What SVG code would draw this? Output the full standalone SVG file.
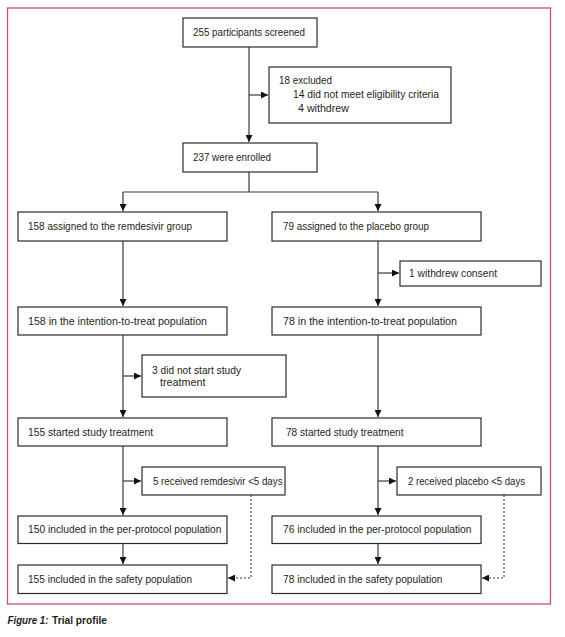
<svg xmlns="http://www.w3.org/2000/svg" width="565" height="637" viewBox="0 0 565 637">
<style>
.b{fill:#fff;stroke:#2b2b2b;stroke-width:1.2}
.t{font-family:"Liberation Sans",Arial,sans-serif;font-size:11px;fill:#231f20}
.l{fill:none;stroke:#3a3a3a;stroke-width:1.2}
.d{fill:none;stroke:#3a3a3a;stroke-width:1.1;stroke-dasharray:2 2}
.cap{font-family:"Liberation Sans",Arial,sans-serif;font-size:11.5px;font-weight:bold;fill:#231f20}
</style>
<defs>
<marker id="a" viewBox="0 0 10 10" refX="10" refY="5" markerWidth="7" markerHeight="7" markerUnits="userSpaceOnUse" orient="auto">
<path d="M0,0 L10,5 L0,10 Z" fill="#111"/>
</marker>
</defs>
<rect x="7.5" y="8" width="543" height="596" fill="none" stroke="#cf4f6e" stroke-width="1.3"/>
<g id="connectors">
<path class="l" d="M249,47 V142" marker-end="url(#a)"/>
<path class="l" d="M249,95 H268" marker-end="url(#a)"/>
<path class="l" d="M249,172 V192 M123,192 H378"/>
<path class="l" d="M123,192 V211" marker-end="url(#a)"/>
<path class="l" d="M378,192 V211" marker-end="url(#a)"/>
<path class="l" d="M123,241 V306" marker-end="url(#a)"/>
<path class="l" d="M378,241 V306" marker-end="url(#a)"/>
<path class="l" d="M378,273 H399" marker-end="url(#a)"/>
<path class="l" d="M123,335 V417" marker-end="url(#a)"/>
<path class="l" d="M123,376 H141" marker-end="url(#a)"/>
<path class="l" d="M378,335 V417" marker-end="url(#a)"/>
<path class="l" d="M123,446 V515" marker-end="url(#a)"/>
<path class="l" d="M123,481 H141" marker-end="url(#a)"/>
<path class="l" d="M378,446 V515" marker-end="url(#a)"/>
<path class="l" d="M378,481 H396" marker-end="url(#a)"/>
<path class="l" d="M123,543 V564" marker-end="url(#a)"/>
<path class="l" d="M378,543 V564" marker-end="url(#a)"/>
<path class="d" d="M251,495 V578 H228" marker-end="url(#a)"/>
<path class="d" d="M504,495 V578 H482" marker-end="url(#a)"/>
</g>
<g id="screened"><rect class="b" x="183" y="18" width="134" height="29"/><text class="t" x="193" y="36" textLength="112" lengthAdjust="spacingAndGlyphs">255 participants screened</text></g>
<g id="excluded"><rect class="b" x="269" y="67" width="182" height="56"/>
<text class="t" x="279" y="83.5" textLength="53" lengthAdjust="spacingAndGlyphs">18 excluded</text>
<text class="t" x="293" y="97.5" textLength="146" lengthAdjust="spacingAndGlyphs">14 did not meet eligibility criteria</text>
<text class="t" x="298" y="111.5" textLength="51" lengthAdjust="spacingAndGlyphs">4 withdrew</text></g>
<g id="enrolled"><rect class="b" x="183" y="143" width="134" height="29"/><text class="t" x="193" y="160.5" textLength="78" lengthAdjust="spacingAndGlyphs">237 were enrolled</text></g>
<g id="remdesivir"><rect class="b" x="18" y="212" width="209" height="29"/><text class="t" x="28" y="229.5" textLength="164" lengthAdjust="spacingAndGlyphs">158 assigned to the remdesivir group</text></g>
<g id="placebo"><rect class="b" x="272" y="212" width="209" height="29"/><text class="t" x="283" y="229.5" textLength="146" lengthAdjust="spacingAndGlyphs">79 assigned to the placebo group</text></g>
<g id="withdrew"><rect class="b" x="400" y="261" width="141" height="25"/><text class="t" x="409" y="277" textLength="88" lengthAdjust="spacingAndGlyphs">1 withdrew consent</text></g>
<g id="itt-r"><rect class="b" x="18" y="307" width="209" height="28"/><text class="t" x="28" y="324.5" textLength="179" lengthAdjust="spacingAndGlyphs">158 in the intention-to-treat population</text></g>
<g id="itt-p"><rect class="b" x="272" y="307" width="209" height="28"/><text class="t" x="283" y="324.5" textLength="174" lengthAdjust="spacingAndGlyphs">78 in the intention-to-treat population</text></g>
<g id="notstart"><rect class="b" x="142" y="355" width="144" height="42"/>
<text class="t" x="152" y="373.5" textLength="89" lengthAdjust="spacingAndGlyphs">3 did not start study</text>
<text class="t" x="160" y="386" textLength="45.5" lengthAdjust="spacingAndGlyphs">treatment</text></g>
<g id="started-r"><rect class="b" x="18" y="418" width="209" height="28"/><text class="t" x="28" y="435.5" textLength="125" lengthAdjust="spacingAndGlyphs">155 started study treatment</text></g>
<g id="started-p"><rect class="b" x="272" y="418" width="209" height="28"/><text class="t" x="286" y="435.5" textLength="117.5" lengthAdjust="spacingAndGlyphs">78 started study treatment</text></g>
<g id="lt5-r"><rect class="b" x="142" y="467" width="143" height="28"/><text class="t" x="153" y="484.5" textLength="129.5" lengthAdjust="spacingAndGlyphs">5 received remdesivir &lt;5 days</text></g>
<g id="lt5-p"><rect class="b" x="397" y="467" width="144" height="28"/><text class="t" x="408" y="484.5" textLength="117" lengthAdjust="spacingAndGlyphs">2 received placebo &lt;5 days</text></g>
<g id="pp-r"><rect class="b" x="18" y="516" width="209" height="27.5"/><text class="t" x="28" y="533" textLength="193.5" lengthAdjust="spacingAndGlyphs">150 included in the per-protocol population</text></g>
<g id="pp-p"><rect class="b" x="272" y="516" width="209" height="27.5"/><text class="t" x="283" y="533" textLength="188.5" lengthAdjust="spacingAndGlyphs">76 included in the per-protocol population</text></g>
<g id="safety-r"><rect class="b" x="18" y="565" width="209" height="28.5"/><text class="t" x="28" y="582.5" textLength="164" lengthAdjust="spacingAndGlyphs">155 included in the safety population</text></g>
<g id="safety-p"><rect class="b" x="272" y="565" width="209" height="28.5"/><text class="t" x="283" y="582.5" textLength="159.5" lengthAdjust="spacingAndGlyphs">78 included in the safety population</text></g>
<text class="cap" x="7.5" y="623.5" font-style="italic" textLength="41" lengthAdjust="spacingAndGlyphs">Figure 1:</text>
<text class="cap" x="52" y="623.5" textLength="55" lengthAdjust="spacingAndGlyphs">Trial profile</text>
</svg>
